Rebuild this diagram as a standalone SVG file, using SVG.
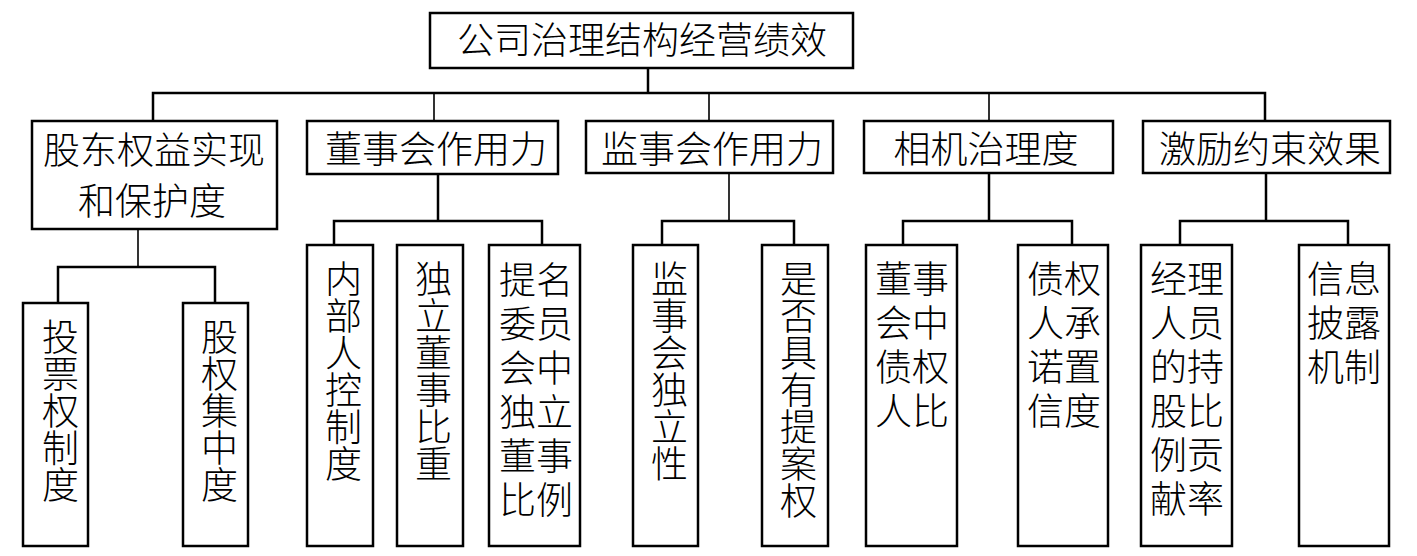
<svg xmlns="http://www.w3.org/2000/svg" width="1417" height="556" viewBox="0 0 1417 556">
<style>
.box{fill:#fff;stroke:#000;stroke-width:2.5}
.ln{fill:none;stroke:#000;stroke-width:2.5}
.thin{fill:none;stroke:#000;stroke-width:1.6}
text{font-family:"Liberation Sans","Noto Sans CJK SC","Noto Sans CJK TC",sans-serif;font-size:37px;font-weight:300;fill:#000;text-anchor:middle}
text.v{writing-mode:vertical-rl;text-anchor:start}
</style>
<rect width="1417" height="556" fill="#fff"/>
<g id="connectors">
<path class="ln" d="M648 68V93"/>
<path class="ln" d="M153 121V93H1265V121"/>
<path class="thin" d="M434 93V121M709 93V121M989 93V121"/>
<path class="thin" d="M138 229V267"/>
<path class="ln" d="M58 303V267H215V303"/>
<path class="ln" d="M438 174V221"/>
<path class="ln" d="M334 245V221H542V245"/>
<path class="thin" d="M729 173V221"/>
<path class="ln" d="M662 245V221H794V245"/>
<path class="ln" d="M989 173V221"/>
<path class="ln" d="M903 245V221H1072V245"/>
<path class="ln" d="M1266 173V221"/>
<path class="ln" d="M1180 245V221H1348V245"/>
</g>
<g id="root"><rect class="box" x="430" y="13" width="423" height="55"/><text x="642" y="54">公司治理结构经营绩效</text></g>
<g id="n1"><rect class="box" x="32" y="121" width="245" height="108"/><text x="154" y="164">股东权益实现</text><text x="152" y="215">和保护度</text></g>
<g id="n2"><rect class="box" x="307" y="121" width="251" height="53"/><text x="436" y="163">董事会作用力</text></g>
<g id="n3"><rect class="box" x="586" y="121" width="247" height="52"/><text x="712" y="163">监事会作用力</text></g>
<g id="n4"><rect class="box" x="864" y="121" width="249" height="52"/><text x="986" y="163">相机治理度</text></g>
<g id="n5"><rect class="box" x="1143" y="121" width="247" height="52"/><text x="1270" y="163">激励约束效果</text></g>
<g id="c1"><rect class="box" x="23" y="303" width="65" height="243"/><text class="v" x="57" y="318">投票权制度</text></g>
<g id="c2"><rect class="box" x="183" y="303" width="65" height="243"/><text class="v" x="216" y="318">股权集中度</text></g>
<g id="c3"><rect class="box" x="307" y="245" width="66" height="301"/><text class="v" x="340" y="260">内部人控制度</text></g>
<g id="c4"><rect class="box" x="397" y="245" width="66" height="301"/><text class="v" x="430" y="260">独立董事比重</text></g>
<g id="c5"><rect class="box" x="489" y="245" width="91" height="301"/><text x="536" y="294"><tspan x="536">提名</tspan><tspan x="536" dy="44">委员</tspan><tspan x="536" dy="44">会中</tspan><tspan x="536" dy="44">独立</tspan><tspan x="536" dy="44">董事</tspan><tspan x="536" dy="44">比例</tspan></text></g>
<g id="c6"><rect class="box" x="633" y="245" width="65" height="301"/><text class="v" x="666" y="260">监事会独立性</text></g>
<g id="c7"><rect class="box" x="762" y="245" width="66" height="301"/><text class="v" x="795" y="260">是否具有提案权</text></g>
<g id="c8"><rect class="box" x="866" y="245" width="91" height="301"/><text x="912" y="293"><tspan x="912">董事</tspan><tspan x="912" dy="44">会中</tspan><tspan x="912" dy="44">债权</tspan><tspan x="912" dy="44">人比</tspan></text></g>
<g id="c9"><rect class="box" x="1018" y="245" width="90" height="301"/><text x="1064" y="293"><tspan x="1064">债权</tspan><tspan x="1064" dy="44">人承</tspan><tspan x="1064" dy="44">诺置</tspan><tspan x="1064" dy="44">信度</tspan></text></g>
<g id="c10"><rect class="box" x="1141" y="245" width="91" height="301"/><text x="1187" y="293"><tspan x="1187">经理</tspan><tspan x="1187" dy="44">人员</tspan><tspan x="1187" dy="44">的持</tspan><tspan x="1187" dy="44">股比</tspan><tspan x="1187" dy="44">例贡</tspan><tspan x="1187" dy="44">献率</tspan></text></g>
<g id="c11"><rect class="box" x="1299" y="245" width="90" height="301"/><text x="1344" y="293"><tspan x="1344">信息</tspan><tspan x="1344" dy="44">披露</tspan><tspan x="1344" dy="44">机制</tspan></text></g>
</svg>
